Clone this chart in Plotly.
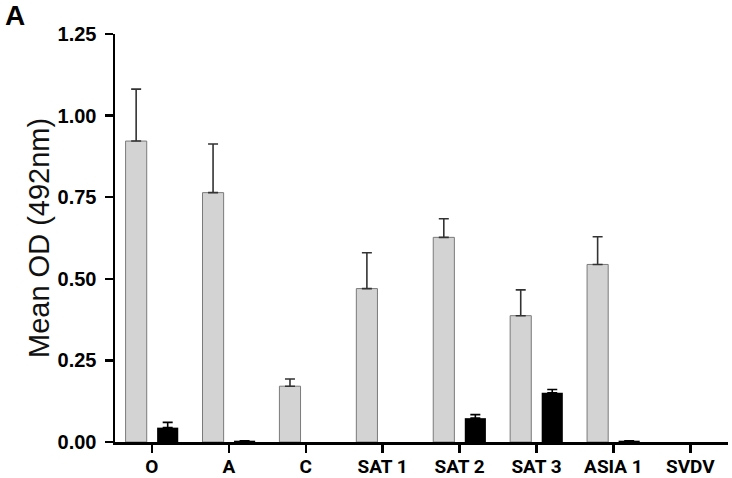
import plotly.graph_objects as go

categories = ["O", "A", "C", "SAT 1", "SAT 2", "SAT 3", "ASIA 1", "SVDV"]
gray_values = [0.922, 0.764, 0.171, 0.470, 0.627, 0.387, 0.544, 0.0]
gray_err = [0.159, 0.149, 0.022, 0.110, 0.057, 0.079, 0.085, 0.0]
black_values = [0.044, 0.004, 0.0, 0.0, 0.073, 0.151, 0.004, 0.0]
black_err = [0.016, 0.0, 0.0, 0.0, 0.011, 0.010, 0.0, 0.0]
y_ticks = [0, 0.25, 0.5, 0.75, 1.0, 1.25]
y_ticktext = ["0.00", "0.25", "0.50", "0.75", "1.00", "1.25"]

def hide_zero(vals):
    return [v if v > 0 else None for v in vals]

fig = go.Figure()
fig.add_trace(go.Bar(
    x=categories, y=hide_zero(gray_values),
    marker=dict(color="#d3d3d3", line=dict(color="#7a7a7a", width=1)),
    error_y=dict(type="data", array=hide_zero(gray_err), arrayminus=[0]*len(gray_err),
                 symmetric=False, color="#333333", thickness=1.6, width=5),
    showlegend=False,
))
fig.add_trace(go.Bar(
    x=categories, y=hide_zero(black_values),
    marker=dict(color="#000000", line=dict(width=0)),
    error_y=dict(type="data", array=hide_zero(black_err), arrayminus=[0]*len(black_err),
                 symmetric=False, color="#000000", thickness=1.6, width=5),
    showlegend=False,
))

fig.update_layout(
    width=732, height=478,
    margin=dict(l=115, r=4, t=34, b=36, autoexpand=False),
    paper_bgcolor="white", plot_bgcolor="white",
    barmode="group", bargap=0.18, bargroupgap=0.33,
    xaxis=dict(
        range=[-0.48, 7.49], showgrid=False, zeroline=False, automargin=False,
        showline=True, linecolor="black", linewidth=2.5,
        ticks="outside", ticklen=8, tickwidth=2.5, tickcolor="black",
        ticklabelstandoff=-2,
        tickfont=dict(family="Roboto, sans-serif", size=19, color="black", weight="bold"),
    ),
    yaxis=dict(
        range=[0, 1.25], tickvals=y_ticks, ticktext=y_ticktext,
        showgrid=False, zeroline=False, automargin=False,
        showline=True, linecolor="black", linewidth=2.5,
        ticks="outside", ticklen=8, tickwidth=2.5, tickcolor="black",
        ticklabelstandoff=4,
        tickfont=dict(family="Liberation Sans, Arial, sans-serif", size=20, color="black", weight="bold"),
    ),
    annotations=[
        dict(text="Mean OD (492nm)", xref="paper", yref="paper",
             x=-0.124, y=0.5, xanchor="center", yanchor="middle",
             textangle=-90, showarrow=False,
             font=dict(family="Liberation Sans, Arial, sans-serif", size=29, color="#111111")),
        dict(text="A", xref="paper", yref="paper",
             x=-0.183, y=1.045, xanchor="left", yanchor="middle",
             showarrow=False,
             font=dict(family="Liberation Sans, Arial, sans-serif", size=28, color="black", weight="bold")),
    ],
)

fig.write_html("out.html",
               config={"displayModeBar": False, "staticPlot": True},
               post_script="document.body.style.margin='0';document.body.style.overflow='hidden';")
